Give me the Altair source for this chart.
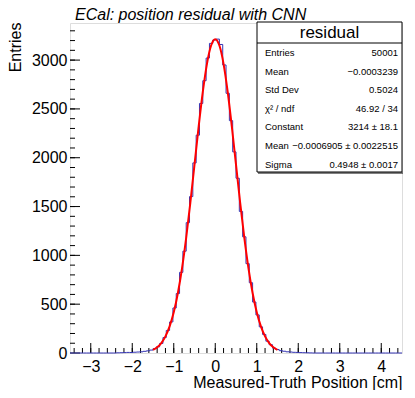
import altair as alt
import pandas as pd

# ---------------- data ----------------
bin_low = -3.5
bin_width = 0.08
# counts for 100 bins over [-3.5, 4.5]
counts = (
    [0] * 14 +
    [2, 3, 4, 6, 5, 8, 10, 12, 17, 22, 30, 44, 63, 98, 158, 231, 318, 461, 609,
     826, 1043, 1335, 1602, 1947, 2231, 2556, 2789, 3021, 3171,
     3206,
     3215, 3160, 2950, 2660, 2380, 2060, 1790, 1450, 1190, 915, 720, 522, 390,
     268, 190, 121, 85, 50, 36, 24, 18, 12, 10, 7, 6, 4, 3, 2, 1] +
    [0] * 27
)

fit_x = [-1.5, -1.4, -1.3, -1.2, -1.1, -1.0, -0.9, -0.8, -0.7, -0.6, -0.5, -0.4,
         -0.3, -0.2, -0.1, 0.0, 0.1, 0.2, 0.3, 0.4, 0.5, 0.6, 0.7, 0.8, 0.9, 1.0,
         1.1, 1.2, 1.3, 1.4, 1.5]
fit_y = [32, 59, 102, 170, 272, 417, 615, 870, 1182, 1541, 1929, 2318,
         2674, 2962, 3149, 3214, 3149, 2962, 2674, 2318, 1929, 1541, 1182, 870,
         615, 417, 272, 170, 102, 59, 32]

x_major = [-3, -2, -1, 0, 1, 2, 3, 4]
x_minor = [round(-3.4 + 0.2 * i, 2) for i in range(40)]
y_major = [0, 500, 1000, 1500, 2000, 2500, 3000]
y_minor = list(range(100, 3400, 100))

stat_labels = ["Entries", "Mean", "Std Dev", "χ² / ndf", "Constant", "Mean", "Sigma"]
stat_values = ["50001", "−0.0003239", "0.5024", "46.92 / 34", "3214 ± 18.1",
               "−0.0006905 ± 0.0022515", "0.4948 ± 0.0017"]

# ---------------- build ----------------
W, H = 332, 330
FONT = "Liberation Sans"

edges = [bin_low + bin_width * i for i in range(len(counts) + 1)]
hist_df = pd.DataFrame({"x": edges, "y": counts + [counts[-1]]})
fit_df = pd.DataFrame({"x": fit_x, "y": fit_y})

xscale = alt.Scale(domain=[-3.5, 4.5], nice=False, zero=False)
yscale = alt.Scale(domain=[0, 3380], nice=False, zero=False)

hist = alt.Chart(hist_df).mark_line(
    interpolate="step-after", color="#3434b4", strokeWidth=1
).encode(
    x=alt.X("x:Q", scale=xscale, axis=alt.Axis(
        values=x_major, ticks=False, domain=False, grid=False, format="d",
        labelFontSize=16, labelFont=FONT, labelColor="black", labelPadding=5,
        title="Measured-Truth Position [cm]", titleFont=FONT, titleFontSize=16,
        titleFontWeight="normal", titleColor="black",
        titleX=W, titleY=34, titleAlign="right", titleBaseline="alphabetic",
        titleAnchor="end")),
    y=alt.Y("y:Q", scale=yscale, axis=alt.Axis(
        values=y_major, ticks=False, domain=False, grid=False, format="d",
        labelFontSize=16, labelFont=FONT, labelColor="black", labelPadding=3,
        title="Entries", titleFont=FONT, titleFontSize=16,
        titleFontWeight="normal", titleColor="black",
        titleX=-55, titleY=-1, titleAngle=270, titleAlign="right",
        titleBaseline="middle", titleAnchor="end")),
)

fit = alt.Chart(fit_df).mark_line(
    color="#ff0000", strokeWidth=2, interpolate="monotone"
).encode(x=alt.X("x:Q", scale=xscale), y=alt.Y("y:Q", scale=yscale))

def xticks(vals, length):
    return alt.Chart(pd.DataFrame({"v": vals})).mark_rule(
        color="black", strokeWidth=1
    ).encode(x=alt.X("v:Q", scale=xscale), y=alt.value(H), y2=alt.value(H - length))

def yticks(vals, length):
    return alt.Chart(pd.DataFrame({"v": vals})).mark_rule(
        color="black", strokeWidth=1
    ).encode(y=alt.Y("v:Q", scale=yscale), x=alt.value(0), x2=alt.value(length))

layers = [xticks(x_minor, 5), xticks(x_major, 10),
          yticks(y_minor, 5), yticks(y_major, 10), hist, fit]

# title
layers.append(alt.Chart(pd.DataFrame({"t": ["ECal: position residual with CNN"]})).mark_text(
    align="left", baseline="alphabetic", fontSize=16, font=FONT, fontStyle="italic",
    color="black"
).encode(text="t:N", x=alt.value(5), y=alt.value(-3)))

# stats box
BX0, BX1, BY0, BY1 = 187, 332, -1, 149
layers.append(alt.Chart(pd.DataFrame({"a": [0]})).mark_rect(
    fill="white", stroke="black", strokeWidth=1
).encode(x=alt.value(BX0), x2=alt.value(BX1), y=alt.value(BY0), y2=alt.value(BY1)))
layers.append(alt.Chart(pd.DataFrame({"a": [0]})).mark_rule(
    color="black", strokeWidth=1
).encode(x=alt.value(BX0 + 1), x2=alt.value(BX1 + 1), y=alt.value(BY1 + 1)))
layers.append(alt.Chart(pd.DataFrame({"a": [0]})).mark_rule(
    color="black", strokeWidth=1
).encode(x=alt.value(BX0), x2=alt.value(BX1), y=alt.value(20)))
layers.append(alt.Chart(pd.DataFrame({"t": ["residual"]})).mark_text(
    align="center", baseline="middle", fontSize=17, font=FONT, color="black"
).encode(text="t:N", x=alt.value((BX0 + BX1) / 2), y=alt.value(10)))

for i, (lab, val) in enumerate(zip(stat_labels, stat_values)):
    yy = 30 + 18.6 * i
    layers.append(alt.Chart(pd.DataFrame({"t": [lab]})).mark_text(
        align="left", baseline="middle", fontSize=9.5, font=FONT, color="black"
    ).encode(text="t:N", x=alt.value(BX0 + 8), y=alt.value(yy)))
    layers.append(alt.Chart(pd.DataFrame({"t": [val]})).mark_text(
        align="right", baseline="middle", fontSize=9.5, font=FONT, color="black"
    ).encode(text="t:N", x=alt.value(BX1 - 4), y=alt.value(yy)))

chart = alt.layer(*layers).properties(
    width=W, height=H,
    autosize=alt.AutoSizeParams(type="none"),
    padding={"left": 62, "top": 15, "right": 5, "bottom": 37},
).configure_view(stroke="black", strokeWidth=1).configure(background="white")

chart.save("out.html", embed_options={"renderer": "svg", "actions": False})
